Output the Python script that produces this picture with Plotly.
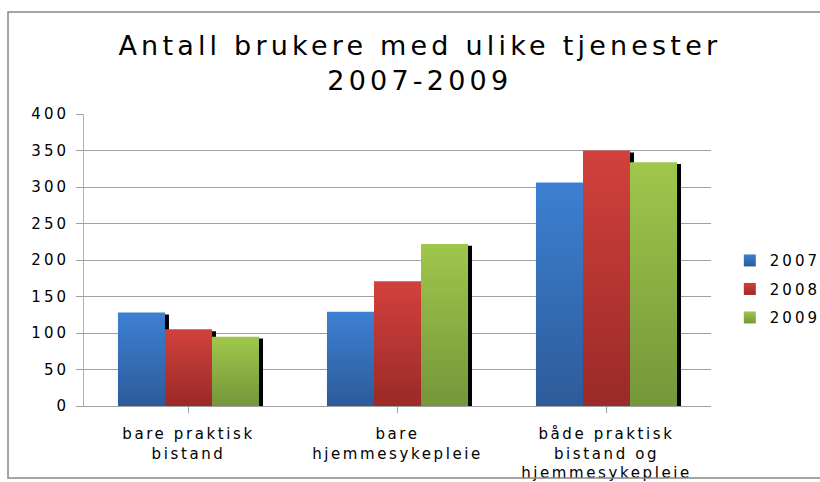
import plotly.graph_objects as go

categories = ["bare praktisk<br>bistand", "bare<br>hjemmesykepleie", "både praktisk<br>bistand og<br>hjemmesykepleie"]
years = ["2007", "2008", "2009"]
values_2007 = [128, 129, 306]
values_2008 = [105, 171, 350]
values_2009 = [95, 222, 334]
y_ticks = [0, 50, 100, 150, 200, 250, 300, 350, 400]

series = [values_2007, values_2008, values_2009]
colors = ["#3670BA", "#B93835", "#8BAF42"]
grad_top = ["#3D80D2", "#D2413C", "#9FC74B"]
grad_bottom = ["#2D5B9A", "#9A2A28", "#75963A"]

bar_w = 0.225
offsets = [-0.3375, -0.1125, 0.1125]
x_idx = list(range(len(categories)))

fig = go.Figure()
# drop shadows behind bars
for i, vals in enumerate(series):
    fig.add_trace(go.Bar(
        x=x_idx, y=vals, base=-2.6, width=bar_w, offset=offsets[i] + 0.019,
        marker=dict(color="black", line=dict(width=0)),
        showlegend=False, hoverinfo="skip"))
for i, vals in enumerate(series):
    fig.add_trace(go.Bar(
        x=x_idx, y=vals, width=bar_w, offset=offsets[i], name=years[i],
        marker=dict(color=colors[i], line=dict(width=0)),
        legendgroup=years[i]))

fig.update_layout(
    width=820, height=482,
    barmode="overlay",
    paper_bgcolor="white", plot_bgcolor="white",
    margin=dict(l=84, r=109, t=114, b=76, autoexpand=False),
    font=dict(family="DejaVu Sans", size=15, color="black"),
    title=dict(text="Antall brukere med ulike tjenester<br>2007-2009",
               x=0.512, xanchor="center", y=0.886, yanchor="top",
               font=dict(size=27, family="DejaVu Sans", color="black")),
    showlegend=True,
    legend=dict(x=1.030, xanchor="left", y=0.40, yanchor="middle",
                font=dict(size=15), tracegroupgap=6, bgcolor="rgba(0,0,0,0)"),
    xaxis=dict(range=[-0.5, 2.5], tickmode="array", tickvals=x_idx, ticktext=categories,
               showgrid=False, showline=True, linecolor="#A0A0A0", linewidth=1,
               ticks="outside", tickson="boundaries", ticklen=6, tickcolor="#A0A0A0",
               ticklabelstandoff=8, automargin=False,
               tickfont=dict(size=15), zeroline=False),
    yaxis=dict(range=[0, 400], tickmode="array", tickvals=y_ticks,
               showgrid=True, gridcolor="#A0A0A0", gridwidth=1,
               showline=True, linecolor="#B0B0B0", linewidth=1,
               ticks="outside", ticklen=7, tickcolor="#A0A0A0",
               ticklabelstandoff=4, automargin=False,
               tickfont=dict(size=15), zeroline=False),
    shapes=[dict(type="rect", xref="paper", yref="paper",
                 x0=-0.1212, x1=1.2, y0=-0.2466, y1=1.349,
                 line=dict(color="#888888", width=1.5), fillcolor="rgba(0,0,0,0)")],
)

grads_js = ",".join("['%s','%s']" % (t, b) for t, b in zip(grad_top, grad_bottom))

post = """
document.body.style.margin = '0';
var gd = document.getElementById('{plot_id}');
try {
  var ns = 'http://www.w3.org/2000/svg';
  var svg = gd.querySelector('.main-svg');
  var defs = svg.querySelector('defs');
  if (!defs) { defs = document.createElementNS(ns, 'defs'); svg.insertBefore(defs, svg.firstChild); }
  var grads = [GRADS];
  grads.forEach(function(g, i) {
    var lg = document.createElementNS(ns, 'linearGradient');
    lg.setAttribute('id', 'barfade' + i);
    lg.setAttribute('x1', '0'); lg.setAttribute('y1', '0');
    lg.setAttribute('x2', '0'); lg.setAttribute('y2', '1');
    [[0, g[0]], [1, g[1]]].forEach(function(s) {
      var st = document.createElementNS(ns, 'stop');
      st.setAttribute('offset', s[0]);
      st.setAttribute('stop-color', s[1]);
      lg.appendChild(st);
    });
    defs.appendChild(lg);
  });
  var traces = gd.querySelectorAll('.barlayer .trace');
  for (var i = 0; i < 3; i++) {
    if (traces[i + 3]) traces[i + 3].querySelectorAll('path').forEach(function(p) { p.style.fill = 'url(#barfade' + i + ')'; });
  }
  gd.querySelectorAll('.legend .traces').forEach(function(t, i) {
    t.querySelectorAll('.legendpoints path').forEach(function(p) { p.style.fill = 'url(#barfade' + i + ')'; });
  });
} catch (e) {}
try {
  gd.querySelectorAll('.gtitle').forEach(function(t) { t.style.letterSpacing = '4.2px'; });
  gd.querySelectorAll('.ytick text').forEach(function(t) { t.style.letterSpacing = '3px'; });
  gd.querySelectorAll('.xtick text').forEach(function(t) { t.style.letterSpacing = '2.6px'; });
  gd.querySelectorAll('.legendtext').forEach(function(t) { t.style.letterSpacing = '3px'; });
  gd.querySelectorAll('.legend [clip-path]').forEach(function(t) { t.removeAttribute('clip-path'); });
} catch (e) {}
""".replace("GRADS", grads_js)

fig.write_html("out.html", post_script=post, config={"displayModeBar": False})
